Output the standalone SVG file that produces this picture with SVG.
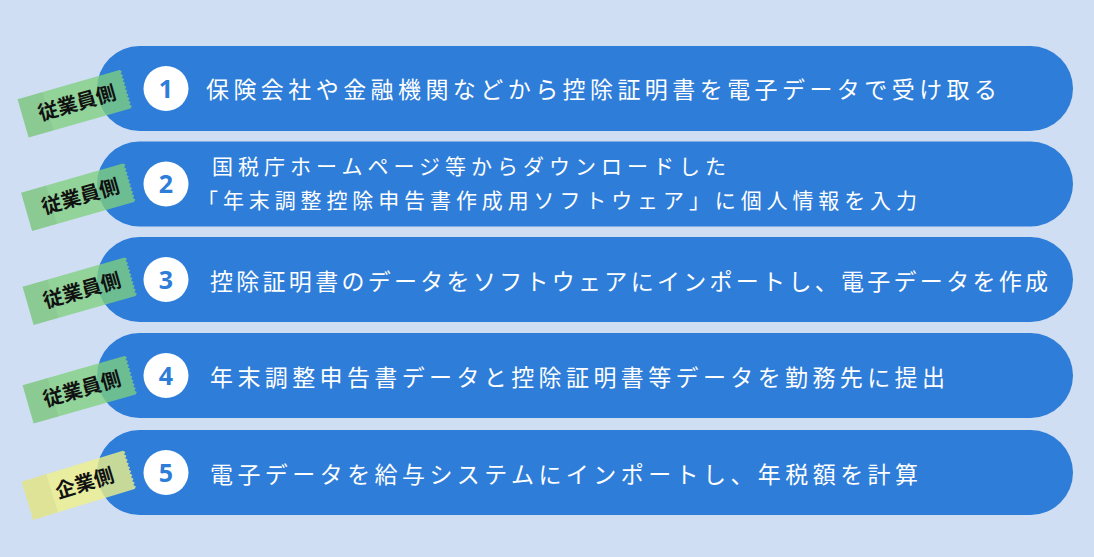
<svg xmlns="http://www.w3.org/2000/svg" width="1094" height="557" viewBox="0 0 1094 557">
<defs>
<style>
.pill{fill:#2e7dd8}
.num-c{fill:#ffffff}
.num{font-family:"Open Sans","Noto Sans",sans-serif;font-weight:700;font-size:25px;fill:#2e7dd8;text-anchor:middle}
.t{font-family:"Noto Sans CJK JP","Noto Sans",sans-serif;font-size:23px;fill:#ffffff}
.t2{font-family:"Noto Sans CJK JP","Noto Sans",sans-serif;font-size:21px;fill:#ffffff}
.tag-g{fill:#7fd07f;fill-opacity:0.78}
.tag-y{fill:#eef08a;fill-opacity:0.8}
.fold{fill:#000000;fill-opacity:0.04}
.tt{font-family:"Noto Sans CJK JP","Noto Sans",sans-serif;font-weight:700;font-size:20px;fill:#111111;text-anchor:middle}
</style>
<path id="tape" d="M-54,-20 H52 l2,2 l-2,2 l2,2 l-2,2 l2,2 l-2,2 l2,2 l-2,2 l2,2 l-2,2 l2,2 l-2,2 l2,2 l-2,2 l2,2 l-2,2 l2,2 l-2,2 l2,2 l-2,2 H-54 Z"/>
</defs>
<rect x="0" y="0" width="1094" height="557" fill="#cfdef3"/>
<g id="connectors"></g>

<g id="step1">
<rect class="pill" x="97" y="46" width="976" height="85" rx="42.5"/>
<circle class="num-c" cx="166" cy="88.5" r="22.5"/>
<text class="num" x="166" y="97.5">1</text>
<text class="t" x="206" y="98" textLength="791" lengthAdjust="spacing">保険会社や金融機関などから控除証明書を電子データで受け取る</text>
</g>
<g id="step2">
<rect class="pill" x="97" y="141.5" width="976" height="85" rx="42.5"/>
<circle class="num-c" cx="166" cy="184" r="22.5"/>
<text class="num" x="166" y="193">2</text>
<text class="t2" x="212" y="174" textLength="514" lengthAdjust="spacing">国税庁ホームページ等からダウンロードした</text>
<text class="t2" x="197" y="208" textLength="720" lengthAdjust="spacing">「年末調整控除申告書作成用ソフトウェア」に個人情報を入力</text>
</g>
<g id="step3">
<rect class="pill" x="97" y="237" width="976" height="85" rx="42.5"/>
<circle class="num-c" cx="166" cy="279.5" r="22.5"/>
<text class="num" x="166" y="288.5">3</text>
<text class="t" x="210" y="290" textLength="838" lengthAdjust="spacing">控除証明書のデータをソフトウェアにインポートし、電子データを作成</text>
</g>
<g id="step4">
<rect class="pill" x="97" y="333" width="976" height="85" rx="42.5"/>
<circle class="num-c" cx="166" cy="375.5" r="22.5"/>
<text class="num" x="166" y="384.5">4</text>
<text class="t" x="210" y="386" textLength="735" lengthAdjust="spacing">年末調整申告書データと控除証明書等データを勤務先に提出</text>
</g>
<g id="step5">
<rect class="pill" x="97" y="430" width="976" height="85" rx="42.5"/>
<circle class="num-c" cx="166" cy="472.5" r="22.5"/>
<text class="num" x="166" y="481.5">5</text>
<text class="t" x="210" y="483" textLength="708" lengthAdjust="spacing">電子データを給与システムにインポートし、年税額を計算</text>
</g>

<g id="tag1" transform="translate(75,103.5) rotate(-16)">
<use href="#tape" class="tag-g"/>
<rect class="fold" x="-54" y="-20" width="26" height="40"/>
<text class="tt" x="2" y="7">従業員側</text>
</g>
<g id="tag2" transform="translate(78.5,197) rotate(-16)">
<use href="#tape" class="tag-g"/>
<rect class="fold" x="-54" y="-20" width="26" height="40"/>
<text class="tt" x="2" y="7">従業員側</text>
</g>
<g id="tag3" transform="translate(80,291) rotate(-16)">
<use href="#tape" class="tag-g"/>
<rect class="fold" x="-54" y="-20" width="26" height="40"/>
<text class="tt" x="2" y="7">従業員側</text>
</g>
<g id="tag4" transform="translate(80,389.5) rotate(-16)">
<use href="#tape" class="tag-g"/>
<rect class="fold" x="-54" y="-20" width="26" height="40"/>
<text class="tt" x="2" y="7">従業員側</text>
</g>
<g id="tag5" transform="translate(79,485) rotate(-17)">
<use href="#tape" class="tag-y"/>
<rect class="fold" x="-54" y="-20" width="26" height="40"/>
<text class="tt" x="6" y="7">企業側</text>
</g>
</svg>
